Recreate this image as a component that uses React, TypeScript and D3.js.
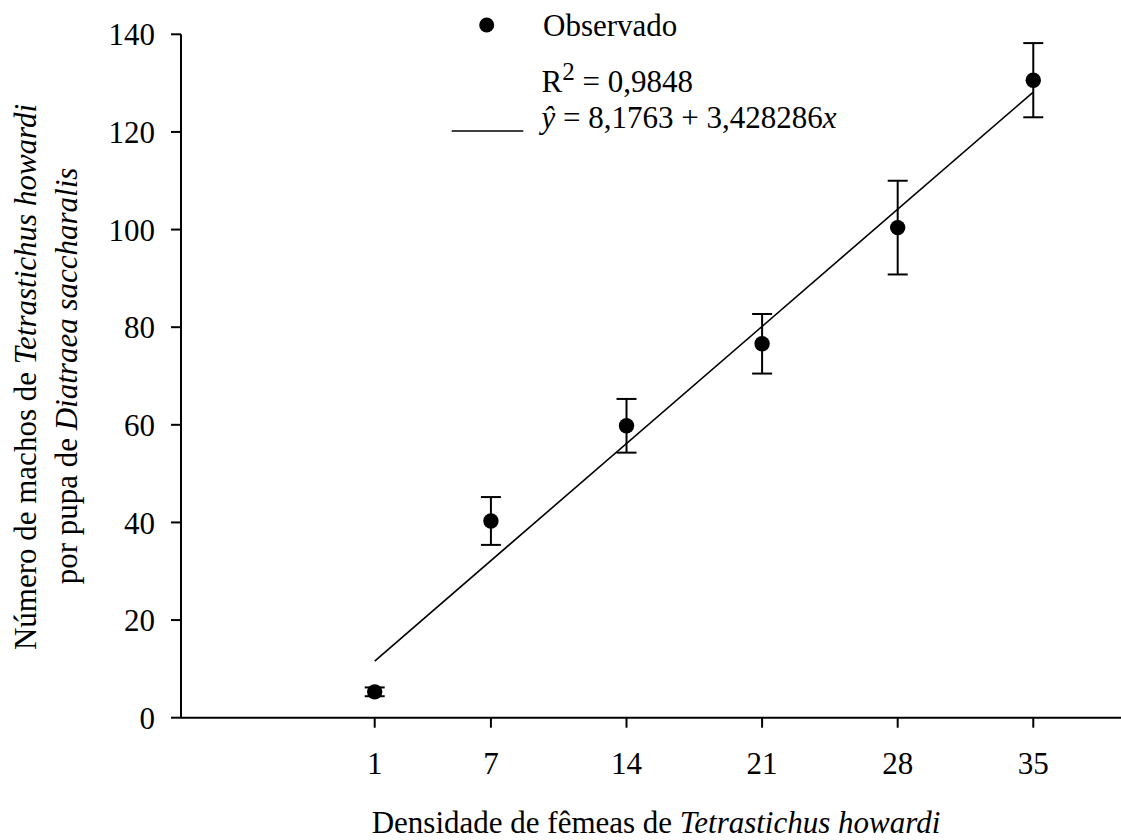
import React from "react";
import * as d3 from "d3";

const densities = [1, 7, 14, 21, 28, 35];
const means = [5.3, 40.3, 59.8, 76.6, 100.4, 130.6];
const errors = [0.9, 4.9, 5.5, 6.1, 9.6, 7.6];
const xTicks = [1, 7, 14, 21, 28, 35];
const yTicks = [0, 20, 40, 60, 80, 100, 120, 140];
const intercept = 8.1763;
const slope = 3.428286;
const fitRange = [1, 35];

const W = 1121;
const H = 840;
const FONT = "Liberation Serif, Times New Roman, serif";
const FS = 31;
const ts: React.CSSProperties = { fontFamily: FONT };

export default function App() {
  const x = d3.scaleLinear().domain([-9, 40]).range([181, 181 + 49 * 19.37]);
  const y = d3.scaleLinear().domain([0, 140]).range([717.7, 34.3]);
  const x0 = x(-9);
  const y0 = y(0);

  const fitLine = d3
    .line<number>()
    .x((d) => x(d))
    .y((d) => y(intercept + slope * d));

  const cap = 10;
  const r = 7.7;

  return (
    <svg
      width={W}
      height={H}
      viewBox={`0 0 ${W} ${H}`}
      style={{ position: "absolute", left: 0, top: 0, display: "block", background: "#fff", fontFamily: FONT }}
    >
      <rect x={0} y={0} width={W} height={H} fill="#fff" />
      {/* axes */}
      <line x1={x0} x2={W + 10} y1={y0} y2={y0} stroke="#000" strokeWidth={2} />
      <line x1={x0} x2={x0} y1={y0} y2={y(140)} stroke="#000" strokeWidth={2} />
      {yTicks.map((t) => (
        <g key={"y" + t}>
          <line x1={x0 - 10} x2={x0} y1={y(t)} y2={y(t)} stroke="#000" strokeWidth={2} />
          <text x={155} y={y(t)} dy="0.36em" textAnchor="end" fontSize={FS} fill="#000" style={ts}>
            {t}
          </text>
        </g>
      ))}
      {xTicks.map((t) => (
        <g key={"x" + t}>
          <line x1={x(t)} x2={x(t)} y1={y0} y2={y0 + 10} stroke="#000" strokeWidth={2} />
          <text x={x(t)} y={774} textAnchor="middle" fontSize={FS} fill="#000" style={ts}>
            {t}
          </text>
        </g>
      ))}

      {/* regression line */}
      <path d={fitLine(fitRange) || ""} fill="none" stroke="#000" strokeWidth={1.6} />

      {/* error bars and points */}
      {densities.map((d, i) => {
        const cx = x(d);
        const yt = y(means[i] + errors[i]);
        const yb = y(means[i] - errors[i]);
        return (
          <g key={"p" + d}>
            <line x1={cx} x2={cx} y1={yt} y2={yb} stroke="#000" strokeWidth={2} />
            <line x1={cx - cap} x2={cx + cap} y1={yt} y2={yt} stroke="#000" strokeWidth={2} />
            <line x1={cx - cap} x2={cx + cap} y1={yb} y2={yb} stroke="#000" strokeWidth={2} />
            <circle cx={cx} cy={y(means[i])} r={r} fill="#000" />
          </g>
        );
      })}

      {/* legend */}
      <circle cx={486.7} cy={25} r={7.5} fill="#000" />
      <text x={543} y={36} fontSize={FS} fill="#000" style={ts}>
        Observado
      </text>
      <text x={541.5} y={91.7} fontSize={FS} fill="#000" style={ts}>
        R
        <tspan fontSize={25} dy={-12} style={ts}>
          2
        </tspan>
        <tspan dy={12} style={ts}> = 0,9848</tspan>
      </text>
      <line x1={451.7} x2={523.3} y1={131} y2={131} stroke="#000" strokeWidth={1.6} />
      <text x={541.5} y={128.3} fontSize={FS} fill="#000" style={ts}>
        <tspan fontStyle="italic" style={ts}>ŷ</tspan>
        <tspan style={ts}> = 8,1763 + 3,428286</tspan>
        <tspan fontStyle="italic" style={ts}>x</tspan>
      </text>

      {/* axis titles */}
      <text x={656} y={833} textAnchor="middle" fontSize={FS} fill="#000" style={ts}>
        Densidade de fêmeas de <tspan fontStyle="italic" style={ts}>Tetrastichus howardi</tspan>
      </text>
      <text transform={`translate(36, 377) rotate(-90)`} textAnchor="middle" fontSize={FS} fill="#000" style={ts}>
        Número de machos de <tspan fontStyle="italic" style={ts}>Tetrastichus howardi</tspan>
      </text>
      <text transform={`translate(77, 376) rotate(-90)`} textAnchor="middle" fontSize={FS} fill="#000" style={ts}>
        por pupa de <tspan fontStyle="italic" style={ts}>Diatraea saccharalis</tspan>
      </text>
    </svg>
  );
}
